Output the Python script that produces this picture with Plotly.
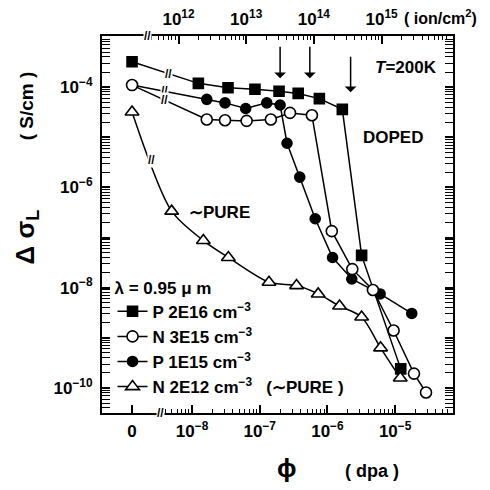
import math
import plotly.graph_objects as go

# ---------------- data ----------------
# phi in dpa (0 = unirradiated), conductivity change in S/cm
sq_x = [0, 1.24e-8, 3.4e-8, 8.5e-8, 1.93e-7, 3.7e-7, 7.6e-7, 1.66e-6, 3.2e-6, 1.21e-5]
sq_y = [3.2e-4, 1.19e-4, 9.7e-5, 9.1e-5, 8.3e-5, 7.5e-5, 5.9e-5, 3.6e-5, 4.4e-8, 2.4e-10]

oc_x = [0, 1.65e-8, 3.07e-8, 6.4e-8, 1.46e-7, 2.8e-7, 5.9e-7, 1.16e-6, 2.33e-6, 4.7e-6, 9.5e-6, 1.9e-5, 2.86e-5]
oc_y = [1.1e-4, 2.26e-5, 2.19e-5, 2.12e-5, 2.26e-5, 3.06e-5, 2.75e-5, 1.34e-7, 2.34e-8, 9.0e-9, 1.4e-9, 1.93e-10, 8.1e-11]

fc_x = [0, 1.65e-8, 3.07e-8, 6.2e-8, 1.27e-7, 2.0e-7, 2.53e-7, 3.9e-7, 6.6e-7, 1.19e-6, 2.29e-6, 6.0e-6, 1.76e-5]
fc_y = [1.1e-4, 5.7e-5, 4.85e-5, 3.75e-5, 4.85e-5, 4.4e-5, 7.6e-6, 1.6e-6, 2.37e-7, 4.0e-8, 1.49e-8, 7.5e-9, 3.06e-9]

tr_x = [0, 5.0e-9, 1.47e-8, 3.44e-8, 1.37e-7, 3.5e-7, 7.3e-7, 1.51e-6, 3.2e-6, 6.1e-6, 1.19e-5]
tr_y = [3.2e-5, 3.36e-7, 8.7e-8, 4.0e-8, 1.28e-8, 1.1e-8, 7.5e-9, 4.3e-9, 2.6e-9, 6.3e-10, 1.58e-10]

names = ["P 2E16 cm<sup>−3</sup>", "N 3E15 cm<sup>−3</sup>", "P 1E15 cm<sup>−3</sup>",
         "N 2E12 cm<sup>−3</sup>   (∼PURE )"]

bottom_ticks = [1e-8, 1e-7, 1e-6, 1e-5]
bottom_text = ["10<sup>−8</sup>", "10<sup>−7</sup>", "10<sup>−6</sup>", "10<sup>−5</sup>"]
top_ticks = [1e12, 1e13, 1e14, 1e15]
top_text = ["10<sup>12</sup>", "10<sup>13</sup>", "10<sup>14</sup>", "10<sup>15</sup>"]
y_ticks = [1e-10, 1e-9, 1e-8, 1e-7, 1e-6, 1e-5, 1e-4, 1e-3]
y_text = ["10<sup>−10</sup>", "", "10<sup>−8</sup>", "", "10<sup>−6</sup>", "", "10<sup>−4</sup>", ""]

arrow_dpa = [2.0e-7, 5.5e-7, 2.2e-6]      # arrows marking the drop
arrow_tip = [1.5e-4, 1.5e-4, 7.9e-5]
arrow_len = [33, 33, 37]

# ---------------- layout constants ----------------
ZERO_AT = 1.3e-9          # where phi = 0 sits, left of the axis break
FLUENCE_SHIFT = 20.2      # log10(ion/cm^2) - log10(dpa)
XR = [-9.33, -4.145]
YR = [-10.5, -2.98]
FONT = "Liberation Sans, Arial, sans-serif"
BLK = "black"


def px(xs):
    return [ZERO_AT if v == 0 else v for v in xs]


def lg(v):
    return math.log10(v)


def minor_vals(lo, hi, start):
    out = []
    for d in range(lo, hi + 1):
        for m in range(2, 10):
            v = m * 10.0 ** d
            if v >= start:
                out.append(v)
    return out


fig = go.Figure()
series = [
    (sq_x, sq_y, names[0], "square", BLK, 1, "linear", 10),
    (fc_x, fc_y, names[2], "circle", BLK, 3, "linear", 10),
    (oc_x, oc_y, names[1], "circle", "white", 2, "linear", 11),
    (tr_x, tr_y, names[3], "triangle-up", "white", 4, "spline", 12),
]
for xs, ys, nm, sym, col, rank, shape, size in series:
    fig.add_trace(go.Scatter(
        x=px(xs), y=ys, name=nm, mode="lines+markers", legendrank=rank,
        line=dict(color=BLK, width=1.5, shape=shape, smoothing=0.8),
        marker=dict(symbol=sym, size=size, color=col, line=dict(color=BLK, width=1.6)),
    ))

# top axis carrier: invisible, spans the top-axis range
fig.add_trace(go.Scatter(x=[10 ** (XR[0] + FLUENCE_SHIFT), 10 ** (XR[1] + FLUENCE_SHIFT)],
                         y=[10 ** YR[0], 10 ** YR[1]], xaxis="x2", mode="markers",
                         marker=dict(size=1, opacity=0), showlegend=False, hoverinfo="skip"))

axis_common = dict(showgrid=False, zeroline=False, showline=True, linecolor=BLK,
                   linewidth=2, ticks="inside", ticklen=8, tickwidth=1.5, tickcolor=BLK,
                   automargin=False,
                   tickfont=dict(family=FONT, size=17, color=BLK, weight="bold"))
MINOR = dict(tickmode="array", ticks="inside", ticklen=4, tickcolor=BLK, tickwidth=1)

fig.update_layout(
    template="none",
    width=482, height=482, margin=dict(l=94, r=37, t=28, b=77),
    paper_bgcolor="white", plot_bgcolor="white",
    font=dict(family=FONT, size=17, color=BLK, weight="bold"),
    xaxis=dict(type="log", range=XR, tickmode="array",
               tickvals=[ZERO_AT] + bottom_ticks, ticktext=["0"] + bottom_text,
               ticklabelstandoff=2,
               minor=dict(tickvals=minor_vals(-9, -5, 4e-9), **MINOR),
               **axis_common),
    xaxis2=dict(type="log", overlaying="x", side="top", anchor="y",
                range=[XR[0] + FLUENCE_SHIFT, XR[1] + FLUENCE_SHIFT],
                tickmode="array", tickvals=top_ticks, ticktext=top_text,
                ticklabelstandoff=2,
                minor=dict(tickvals=minor_vals(11, 15, 4e11), **MINOR),
                **axis_common),
    yaxis=dict(type="log", range=YR, tickmode="array", tickvals=y_ticks, ticktext=y_text,
               mirror="allticks", ticklabelstandoff=4,
               minor=dict(tickvals=minor_vals(-11, -4, 1e-11), **MINOR),
               **axis_common),
    legend=dict(x=0.03, y=0.375, xanchor="left", yanchor="top", bgcolor="rgba(0,0,0,0)",
                font=dict(family=FONT, size=17, color=BLK, weight="bold"),
                title=dict(text="λ = 0.95 μ m", font=dict(family=FONT, size=17, weight="bold")),
                itemwidth=30, tracegroupgap=0),
    showlegend=True,
)

anns = []


def seg_break(xs, ys, xb):
    x0, x1 = lg(ZERO_AT), lg(xs[1])
    t = (lg(xb) - x0) / (x1 - x0)
    yb = lg(ys[0]) + t * (lg(ys[1]) - lg(ys[0]))
    return lg(xb), yb


BRK = dict(showarrow=False, bgcolor="white", borderpad=0, font=dict(size=12, family=FONT))
for xs, ys, xb in [(sq_x, sq_y, 10 ** -8.35), (fc_x, fc_y, 10 ** -8.40),
                   (oc_x, oc_y, 10 ** -8.40), (tr_x, tr_y, 10 ** -8.60)]:
    bx, by = seg_break(xs, ys, xb)
    anns.append(dict(x=bx, y=by, xref="x", yref="y", text="//", **BRK))
# axis breaks
anns.append(dict(x=-8.665, y=1, xref="x", yref="paper", text="//", yanchor="middle", **BRK))
anns.append(dict(x=-8.47, y=0, xref="x", yref="paper", text="//", yanchor="middle", **BRK))

for a, tip, L in zip(arrow_dpa, arrow_tip, arrow_len):
    anns.append(dict(x=lg(a), y=lg(tip), xref="x", yref="y", ax=0, ay=-L, text="",
                     showarrow=True, arrowhead=1, arrowsize=1.3, arrowwidth=1.5,
                     arrowcolor=BLK))


def txt(t, x, y, size=17, angle=0, xanchor="center"):
    anns.append(dict(text=t, x=x, y=y, xref="paper", yref="paper", showarrow=False,
                     textangle=angle, xanchor=xanchor, yanchor="middle",
                     font=dict(family=FONT, size=size, color=BLK, weight="bold")))


txt("Δ σ<sub>L</sub>", -0.215, 0.467, size=26, angle=-90)
txt("( S/cm )", -0.215, 0.815, size=19, angle=-90)
txt("ϕ", 0.527, -0.147, size=26)
txt("( dpa )", 0.769, -0.155, size=18)
txt("( ion/cm<sup>2</sup>)", 0.965, 1.05, size=16)
txt("<i>T</i>=200K", 0.866, 0.917, size=17)
txt("DOPED", 0.829, 0.731, size=17)
txt("∼PURE", 0.336, 0.533, size=17)

fig.update_layout(annotations=anns)
fig.write_html("out.html")
